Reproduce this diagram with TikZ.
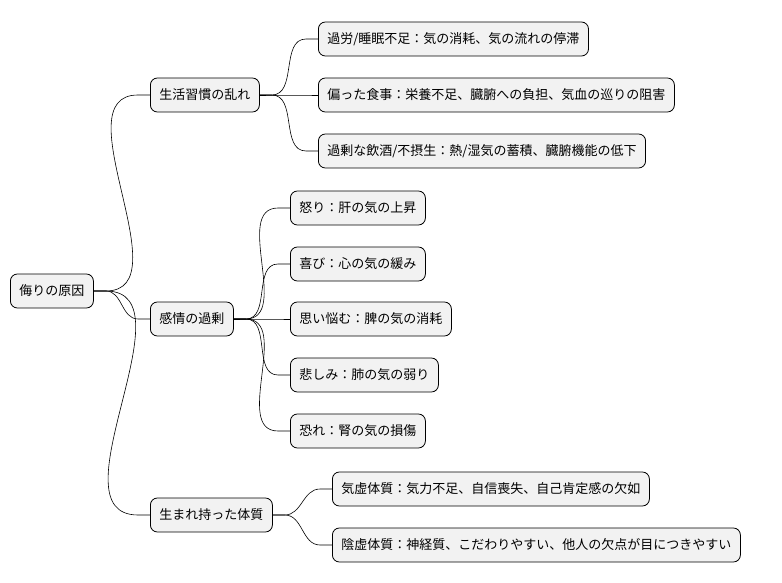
\documentclass[tikz,border=0pt]{standalone}
\usepackage{fontspec}
\setmainfont{Noto Sans CJK JP}
\tikzset{
  topic/.style={draw=black, fill=gray!10, rounded corners=7pt, line width=0.8pt,
    anchor=west, minimum height=34pt, inner xsep=9pt, font=\fontsize{13}{15}\selectfont},
  link/.style={line width=0.6pt}
}
\begin{document}
\begin{tikzpicture}[x=1pt,y=-1pt]
    \useasboundingbox (0,0) rectangle (782,583);
    % root
    \node[topic] (root) at (10,291) {侮りの原因};
    % first level
    \node[topic] (life) at (150,95) {生活習慣の乱れ};
    \node[topic] (emo) at (150,319) {感情の過剰};
    \node[topic] (body) at (150,515) {生まれ持った体質};
    % lifestyle
    \node[topic] (l1) at (318,39) {過労/睡眠不足：気の消耗、気の流れの停滞};
    \node[topic] (l2) at (318,95) {偏った食事：栄養不足、臓腑への負担、気血の巡りの阻害};
    \node[topic] (l3) at (318,151) {過剰な飲酒/不摂生：熱/湿気の蓄積、臓腑機能の低下};
    % emotions
    \node[topic] (e1) at (290,208) {怒り：肝の気の上昇};
    \node[topic] (e2) at (290,264) {喜び：心の気の緩み};
    \node[topic] (e3) at (290,319) {思い悩む：脾の気の消耗};
    \node[topic] (e4) at (290,375) {悲しみ：肺の気の弱り};
    \node[topic] (e5) at (290,431) {恐れ：腎の気の損傷};
    % constitution
    \node[topic] (b1) at (332,489) {気虚体質：気力不足、自信喪失、自己肯定感の欠如};
    \node[topic] (b2) at (332,545) {陰虚体質：神経質、こだわりやすい、他人の欠点が目につきやすい};
    % links
    \foreach \a/\b in {root/life,root/emo,root/body,life/l1,life/l2,life/l3,
        emo/e1,emo/e2,emo/e3,emo/e4,emo/e5,body/b1,body/b2}
      \draw[link] (\a.east) -- ++(12,0) to[out=0,in=180] ([xshift=-12pt]\b.west) -- (\b.west);
\end{tikzpicture}
\end{document}
